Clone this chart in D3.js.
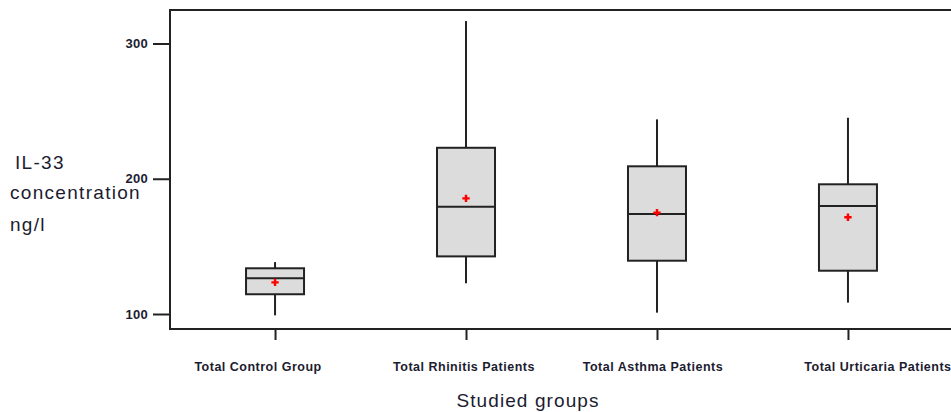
<!DOCTYPE html>
<html>
<head>
<meta charset="utf-8">
<script src="https://cdn.jsdelivr.net/npm/d3@7"></script>
<style>
  html, body { margin: 0; padding: 0; background: #fff; }
  svg { display: block; }
</style>
</head>
<body>
<svg id="chart" width="951" height="412"></svg>
<script>
// ---- data ----
const categories = ["Total Control Group", "Total Rhinitis Patients", "Total Asthma Patients", "Total Urticaria Patients"];
const whiskerLow  = [99, 122.7, 101, 108.4];
const q1          = [114.6, 142.6, 139.4, 132];
const median      = [126.4, 179.3, 173.9, 179.8];
const q3          = [133.8, 222.9, 209.2, 195.9];
const whiskerHigh = [138.4, 316.6, 243.9, 245.1];
const means       = [123.4, 185.5, 174.9, 171.5];
const yTicks      = [100, 200, 300];
const yTitleLines = ["IL-33", "concentration", "ng/l"];
const xTitle      = "Studied groups";

// ---- layout ----
const svg = d3.select("#chart");
const plotLeft = 170, plotRight = 953, plotTop = 10, plotBottom = 329;
const boxW = 58;
const labelDx = [-17, -2, -4, 30];

const x = d3.scalePoint().domain(categories).range([plotLeft, plotRight]).padding(0.55);
const y = d3.scaleLinear().domain([100, 300]).range([314, 43.5]);

const stroke = "#222";

// frame
svg.append("path")
  .attr("d", `M${plotRight},${plotTop}H${plotLeft}V${plotBottom}H${plotRight}`)
  .attr("fill", "none").attr("stroke", stroke).attr("stroke-width", 2);

// y axis ticks
const yAxis = d3.axisLeft(y).tickValues(yTicks).tickSize(17).tickPadding(5);
const gy = svg.append("g").attr("transform", `translate(${plotLeft},0)`).call(yAxis);
gy.select(".domain").remove();
gy.selectAll(".tick line").attr("stroke", stroke).attr("stroke-width", 2);
gy.selectAll(".tick text")
  .attr("font-family", "Liberation Sans, Arial, sans-serif")
  .attr("font-size", 13).attr("font-weight", "bold").attr("fill", "#1c1c30")
  .attr("letter-spacing", 0.3);

// x axis ticks
const xAxis = d3.axisBottom(x).tickSize(11).tickFormat("");
const gx = svg.append("g").attr("transform", `translate(0,${plotBottom})`).call(xAxis);
gx.select(".domain").remove();
gx.selectAll(".tick line").attr("stroke", stroke).attr("stroke-width", 2);

// x labels
svg.append("g").selectAll("text").data(categories).join("text")
  .attr("x", (d, i) => x(d) + labelDx[i])
  .attr("y", 371)
  .attr("text-anchor", "middle")
  .attr("font-family", "Liberation Sans, Arial, sans-serif")
  .attr("font-size", 12.5).attr("font-weight", "bold").attr("fill", "#1c1c30")
  .attr("letter-spacing", 0.5)
  .text(d => d);

// boxes
const boxes = svg.append("g").selectAll("g").data(categories).join("g");
boxes.append("line")
  .attr("x1", d => x(d)).attr("x2", d => x(d))
  .attr("y1", (d, i) => y(whiskerHigh[i])).attr("y2", (d, i) => y(q3[i]))
  .attr("stroke", stroke).attr("stroke-width", 2);
boxes.append("line")
  .attr("x1", d => x(d)).attr("x2", d => x(d))
  .attr("y1", (d, i) => y(q1[i])).attr("y2", (d, i) => y(whiskerLow[i]))
  .attr("stroke", stroke).attr("stroke-width", 2);
boxes.append("rect")
  .attr("x", d => x(d) - boxW / 2).attr("width", boxW)
  .attr("y", (d, i) => y(q3[i])).attr("height", (d, i) => y(q1[i]) - y(q3[i]))
  .attr("fill", "#dcdcdc").attr("stroke", stroke).attr("stroke-width", 2);
boxes.append("line")
  .attr("x1", d => x(d) - boxW / 2).attr("x2", d => x(d) + boxW / 2)
  .attr("y1", (d, i) => y(median[i])).attr("y2", (d, i) => y(median[i]))
  .attr("stroke", stroke).attr("stroke-width", 2);
boxes.append("path")
  .attr("transform", (d, i) => `translate(${x(d)},${y(means[i])})`)
  .attr("d", d3.symbol(d3.symbolCross, 30))
  .attr("fill", "#ff0000");

// axis titles
const yt = svg.append("text")
  .attr("font-family", "Liberation Sans, Arial, sans-serif")
  .attr("font-size", 19).attr("fill", "#1c1c30")
  .attr("letter-spacing", 1.3);
yt.selectAll("tspan").data(yTitleLines).join("tspan")
  .attr("x", (d, i) => i === 0 ? 15 : 10)
  .attr("y", (d, i) => [169, 199, 231][i])
  .text(d => d);

svg.append("text")
  .attr("x", 528).attr("y", 407)
  .attr("text-anchor", "middle")
  .attr("font-family", "Liberation Sans, Arial, sans-serif")
  .attr("font-size", 19).attr("fill", "#1c1c30")
  .attr("letter-spacing", 1.1)
  .text(xTitle);
</script>
</body>
</html>
